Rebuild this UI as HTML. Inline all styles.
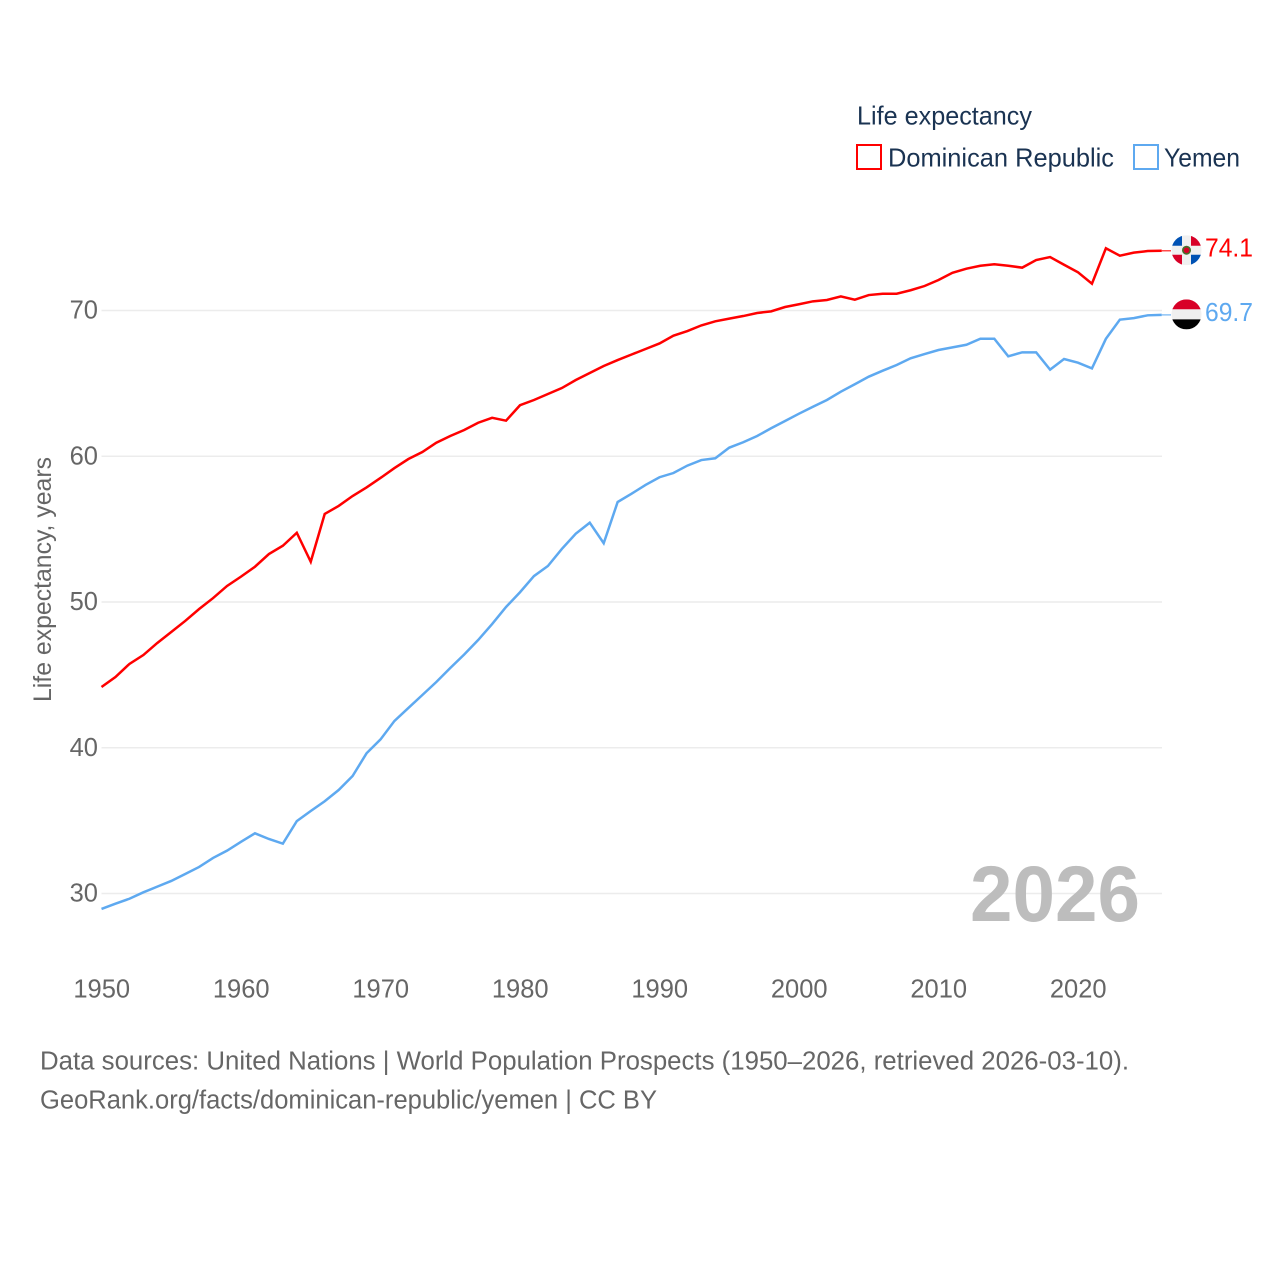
<!DOCTYPE html>
<html lang="en">
<head>
<meta charset="utf-8">
<title>Life expectancy: Dominican Republic and Yemen</title>
<style>
  html, body { margin: 0; padding: 0; background: #fff; }
  svg { display: block; font-family: "Liberation Sans", sans-serif; }
</style>
</head>
<body>
<svg id="chart" xmlns="http://www.w3.org/2000/svg" width="1280" height="1280" viewBox="0 0 1280 1280">
  <defs>
    <clipPath id="flag-clip-a"><circle cx="0" cy="0" r="15"/></clipPath>
    <clipPath id="flag-clip-b"><circle cx="0" cy="0" r="15"/></clipPath>
  </defs>
  <rect width="1280" height="1280" fill="#ffffff"/>
  <g id="grid"></g>
  <g id="yticks"></g>
  <g id="xticks"></g>
  <text transform="translate(51,702) rotate(-90)" font-size="25" fill="#666666" textLength="245" lengthAdjust="spacingAndGlyphs">Life expectancy, years</text>
  <text x="970" y="921" font-size="79" font-weight="700" fill="#bdbdbd" textLength="170" lengthAdjust="spacingAndGlyphs">2026</text>
  <g id="series"></g>
  <g id="ends"></g>

  <g>
    <text x="857" y="124.5" font-size="26" fill="#1a3352" textLength="175" lengthAdjust="spacingAndGlyphs">Life expectancy</text>
    <g>
      <rect x="857" y="145" width="24" height="24" fill="#ffffff" stroke="#ff0000" stroke-width="2"/>
      <text x="888" y="166.5" font-size="26" fill="#1a3352" textLength="226" lengthAdjust="spacingAndGlyphs">Dominican Republic</text>
    </g>
    <g>
      <rect x="1134" y="145" width="24" height="24" fill="#ffffff" stroke="#5ea9f0" stroke-width="2"/>
      <text x="1164" y="166.5" font-size="26" fill="#1a3352" textLength="76" lengthAdjust="spacingAndGlyphs">Yemen</text>
    </g>
  </g>

  <g>
    <text x="40" y="1069.5" font-size="25.5" fill="#666666" textLength="1089" lengthAdjust="spacingAndGlyphs">Data sources: United Nations | World Population Prospects (1950–2026, retrieved 2026-03-10).</text>
    <text x="40" y="1108.5" font-size="25.5" fill="#666666" textLength="617" lengthAdjust="spacingAndGlyphs">GeoRank.org/facts/dominican-republic/yemen | CC BY</text>
  </g>
</svg>
<script>
const startYear = 1950;
const yTickValues = [30, 40, 50, 60, 70];
const xTickYears = [1950, 1960, 1970, 1980, 1990, 2000, 2010, 2020];
const dominicanRepublic = [
  44.17, 44.85, 45.75, 46.36, 47.19, 47.94, 48.70, 49.52, 50.27, 51.10,
  51.74, 52.42, 53.29, 53.86, 54.75, 52.76, 56.04, 56.59, 57.27, 57.86,
  58.51, 59.19, 59.81, 60.29, 60.93, 61.39, 61.80, 62.30, 62.64, 62.44,
  63.50, 63.86, 64.27, 64.68, 65.23, 65.71, 66.19, 66.60, 66.98, 67.36,
  67.74, 68.27, 68.59, 68.98, 69.26, 69.44, 69.62, 69.83, 69.94, 70.24,
  70.43, 70.63, 70.72, 70.97, 70.74, 71.06, 71.15, 71.15, 71.39, 71.68,
  72.09, 72.59, 72.87, 73.07, 73.17, 73.07, 72.94, 73.46, 73.67, 73.14,
  72.62, 71.84, 74.27, 73.76, 73.97, 74.08, 74.1
];
const yemen = [
  28.94, 29.30, 29.64, 30.08, 30.47, 30.86, 31.34, 31.82, 32.44, 32.94,
  33.55, 34.13, 33.74, 33.42, 34.97, 35.66, 36.33, 37.10, 38.06, 39.62,
  40.57, 41.84, 42.73, 43.62, 44.51, 45.47, 46.40, 47.39, 48.49, 49.66,
  50.67, 51.78, 52.47, 53.64, 54.69, 55.44, 54.03, 56.86, 57.43, 58.03,
  58.56, 58.85, 59.36, 59.74, 59.86, 60.59, 60.96, 61.39, 61.92, 62.42,
  62.92, 63.40, 63.86, 64.43, 64.94, 65.46, 65.87, 66.26, 66.72, 67.01,
  67.29, 67.47, 67.65, 68.06, 68.06, 66.86, 67.13, 67.13, 65.94, 66.67,
  66.42, 66.03, 68.06, 69.37, 69.48, 69.67, 69.7
];

const NS = 'http://www.w3.org/2000/svg';
const plotLeft = 101.5;
const plotRight = 1162;
function xScale(year) {
  return plotLeft + (year - startYear) * 13.95;
}
function yScale(value) {
  return 893.5 - (value - 30) * 14.575;
}
function make(tag, attrs, parent) {
  const el = document.createElementNS(NS, tag);
  for (const k in attrs) el.setAttribute(k, attrs[k]);
  parent.appendChild(el);
  return el;
}

const grid = document.getElementById('grid');
const yticks = document.getElementById('yticks');
const xticks = document.getElementById('xticks');
const seriesGroup = document.getElementById('series');
const ends = document.getElementById('ends');

yTickValues.forEach(function (v) {
  const line = make('line', { x1: plotLeft, x2: plotRight, y1: yScale(v), y2: yScale(v), stroke: '#ececec', 'stroke-width': 1.5 }, grid);
  
  
  const label = make('text', { x: 98, y: yScale(v) + 8.2, 'text-anchor': 'end', 'font-size': 25.5, fill: '#666666' }, yticks);
  label.textContent = String(v);
  
  
});

xTickYears.forEach(function (yr) {
  const label = make('text', { x: xScale(yr) + 0.2, y: 997.5, 'text-anchor': 'middle', 'font-size': 25.5, fill: '#666666' }, xticks);
  label.textContent = String(yr);
  
  
});

function drawLine(values, color, name) {
  const pts = values.map(function (v, i) {
    return xScale(startYear + i).toFixed(2) + ',' + yScale(v).toFixed(2);
  }).join(' ');
  const line = make('polyline', { points: pts, fill: 'none', stroke: color, 'stroke-width': 2.5, 'stroke-linejoin': 'miter' }, seriesGroup);
  
  
}
drawLine(dominicanRepublic, '#ff0000', 'line-dominican-republic');
drawLine(yemen, '#5ea9f0', 'line-yemen');

function drawEnd(values, color, name) {
  const last = values[values.length - 1];
  const lastX = xScale(startYear + values.length - 1);
  const y = yScale(last);
  const conn = make('line', { x1: lastX, x2: 1171, y1: y, y2: y, stroke: color, 'stroke-width': 1.5, opacity: 0.7 }, ends);
  
  
  const label = make('text', { x: 1205, y: y + 5.9, 'font-size': 25.5, fill: color, textLength: 48, lengthAdjust: 'spacingAndGlyphs' }, ends);
  label.textContent = last.toFixed(1);
  
  
  const flag = make('g', { transform: 'translate(1186.5,' + (y - 0.5).toFixed(2) + ')' }, ends);
  
  
  return flag;
}

const drFlag = drawEnd(dominicanRepublic, '#ff0000', 'dominican-republic');
const drClip = make('g', { 'clip-path': 'url(#flag-clip-a)' }, drFlag);
make('rect', { x: -15, y: -15, width: 30, height: 30, fill: '#f0f0f0' }, drClip);
make('rect', { x: -15, y: -15, width: 10.5, height: 10.5, fill: '#0052b4' }, drClip);
make('rect', { x: 4.5, y: -15, width: 10.5, height: 10.5, fill: '#d80027' }, drClip);
make('rect', { x: -15, y: 4.5, width: 10.5, height: 10.5, fill: '#d80027' }, drClip);
make('rect', { x: 4.5, y: 4.5, width: 10.5, height: 10.5, fill: '#0052b4' }, drClip);
make('circle', { cx: 0, cy: 0, r: 4.5, fill: '#496e2d' }, drClip);
make('circle', { cx: 0, cy: 0, r: 2.8, fill: '#d80027' }, drClip);

const yeFlag = drawEnd(yemen, '#5ea9f0', 'yemen');
const yeClip = make('g', { 'clip-path': 'url(#flag-clip-b)' }, yeFlag);
make('rect', { x: -15, y: -15, width: 30, height: 10, fill: '#d80027' }, yeClip);
make('rect', { x: -15, y: -5, width: 30, height: 10, fill: '#f0f0f0' }, yeClip);
make('rect', { x: -15, y: 5, width: 30, height: 10, fill: '#000000' }, yeClip);
</script>
</body>
</html>
